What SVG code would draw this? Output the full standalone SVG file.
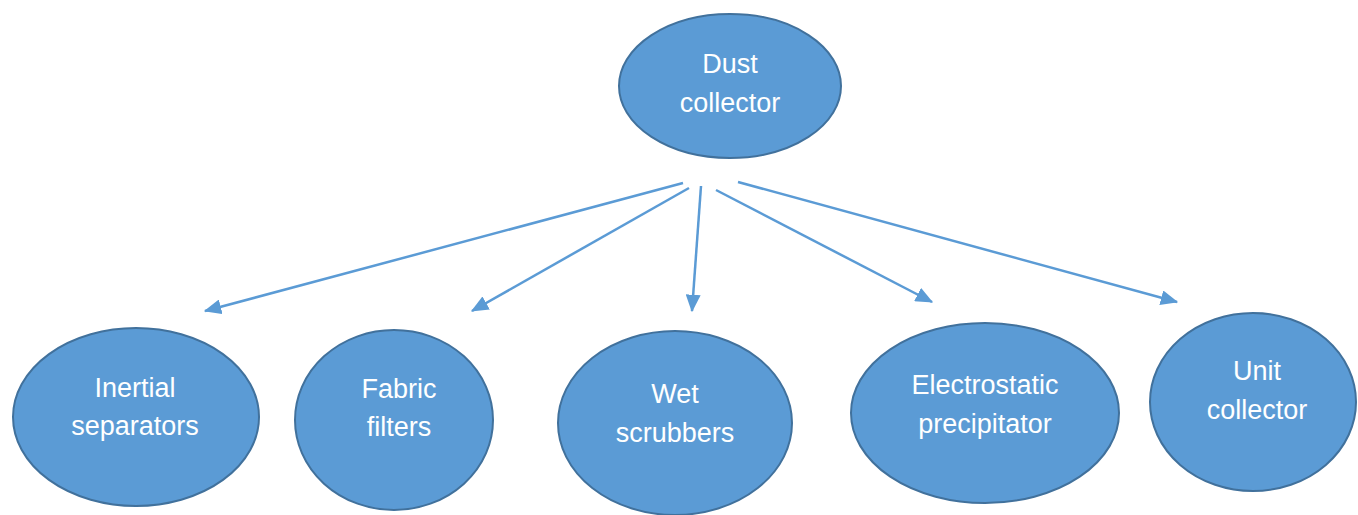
<svg xmlns="http://www.w3.org/2000/svg" width="1358" height="515" viewBox="0 0 1358 515">
  <style>
    .node ellipse { fill: #5b9bd5; stroke: #41719c; stroke-width: 2; }
    .node text { font-family: "Liberation Sans", Arial, sans-serif; font-size: 27px; fill: #ffffff; text-anchor: middle; }
    .edge { stroke: #5b9bd5; stroke-width: 2.5; fill: none; marker-end: url(#arrow); }
  </style>
  <defs>
    <marker id="arrow" markerWidth="7" markerHeight="6" refX="6.5" refY="3" orient="auto" markerUnits="strokeWidth">
      <path d="M0,0 L7,3 L0,6 Z" fill="#5b9bd5"/>
    </marker>
  </defs>
  <rect width="1358" height="515" fill="#ffffff"/>

  <g id="connectors">
    <line class="edge" x1="683" y1="183" x2="205" y2="311"/>
    <line class="edge" x1="689" y1="188" x2="472" y2="311"/>
    <line class="edge" x1="701" y1="186" x2="692" y2="311"/>
    <line class="edge" x1="716" y1="190" x2="932" y2="302"/>
    <line class="edge" x1="738" y1="182" x2="1177" y2="302"/>
  </g>

  <g id="dust-collector" class="node">
    <ellipse cx="730" cy="86" rx="111" ry="72"/>
    <text x="730" y="73">Dust</text>
    <text x="730" y="112">collector</text>
  </g>

  <g id="inertial-separators" class="node">
    <ellipse cx="136" cy="417" rx="123" ry="89"/>
    <text x="135" y="397">Inertial</text>
    <text x="135" y="435">separators</text>
  </g>

  <g id="fabric-filters" class="node">
    <ellipse cx="394" cy="420" rx="99" ry="90"/>
    <text x="399" y="398">Fabric</text>
    <text x="399" y="436">filters</text>
  </g>

  <g id="wet-scrubbers" class="node">
    <ellipse cx="675" cy="423" rx="117" ry="92"/>
    <text x="675" y="403">Wet</text>
    <text x="675" y="442">scrubbers</text>
  </g>

  <g id="electrostatic-precipitator" class="node">
    <ellipse cx="985" cy="413" rx="134" ry="90"/>
    <text x="985" y="394">Electrostatic</text>
    <text x="985" y="433">precipitator</text>
  </g>

  <g id="unit-collector" class="node">
    <ellipse cx="1253" cy="402" rx="103" ry="89"/>
    <text x="1257" y="380">Unit</text>
    <text x="1257" y="419">collector</text>
  </g>
</svg>
